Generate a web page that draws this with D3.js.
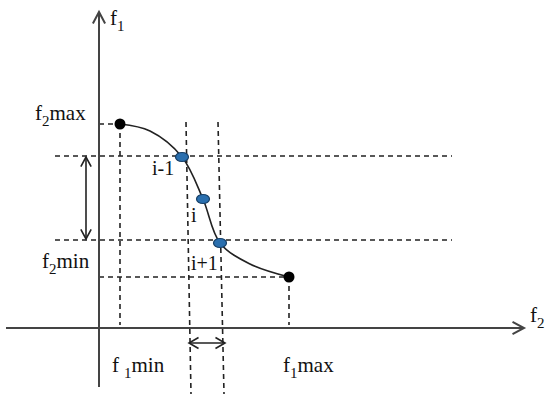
<!DOCTYPE html>
<html lang="en">
<head>
    <meta charset="UTF-8">
    <title>Pareto front</title>
    <style>
        body { margin: 0; background: #fff; }
        .axis { stroke: #444; stroke-width: 2px; fill: none; }
        .guide { stroke: #222; stroke-width: 1.6px; stroke-dasharray: 5, 4; fill: none; }
        .front { stroke: #222; stroke-width: 1.6px; fill: none; }
        .arrow { stroke: #222; stroke-width: 1.6px; fill: none; }
        text { font-family: "Liberation Serif", "DejaVu Serif", serif; fill: #111; }
    </style>
</head>
<body>
    <script src="https://d3js.org/d3.v7.min.js"></script>
    <script>
        // front points (abstract units, x -> f1, y -> f2)
        var frontX = [21, 51, 83, 104, 121, 151, 190];
        var frontY = [204, 197, 171, 129, 85, 64, 51];
        // end points of the front (black) and neighbour points i-1, i, i+1 (blue)
        var endX = [21, 190];
        var endY = [204, 51];
        var nbX = [83, 104, 121];
        var nbY = [171, 129, 85];
        var nbLabels = ["i-1", "i", "i+1"];
        // horizontal levels of the i-1 / i+1 points
        var levelY = [172, 88];
        // slanted vertical guides through i-1 and i+1 (top x, bottom x)
        var vTopX = [87, 119];
        var vBotX = [92, 125];

        var width = 550, height = 400;

        var x = d3.scaleLinear().domain([0, 425]).range([99, 524]);
        var y = d3.scaleLinear().domain([0, 316]).range([328, 12]);

        var svg = d3.select("body").append("svg")
            .attr("width", width)
            .attr("height", height);

        // chevron arrow head at (px,py) pointing in direction angle (deg)
        function head(px, py, ang, len, spread) {
            var a = ang * Math.PI / 180, s = spread * Math.PI / 180;
            var p1 = [px - len * Math.cos(a - s), py - len * Math.sin(a - s)];
            var p2 = [px - len * Math.cos(a + s), py - len * Math.sin(a + s)];
            return "M" + p1 + "L" + px + "," + py + "L" + p2;
        }

        // dashed guides
        var g = svg.append("g");
        levelY.forEach(function (v) {
            g.append("line").attr("class", "guide")
                .attr("x1", 55).attr("x2", 452)
                .attr("y1", y(v)).attr("y2", y(v));
        });
        g.append("line").attr("class", "guide")
            .attr("x1", x(0)).attr("x2", x(endX[0]))
            .attr("y1", y(endY[0])).attr("y2", y(endY[0]));
        g.append("line").attr("class", "guide")
            .attr("x1", x(0)).attr("x2", x(endX[1]))
            .attr("y1", y(endY[1])).attr("y2", y(endY[1]));
        endX.forEach(function (v, i) {
            g.append("line").attr("class", "guide")
                .attr("x1", x(v)).attr("x2", x(v))
                .attr("y1", y(endY[i])).attr("y2", y(0) - 3);
        });
        vTopX.forEach(function (v, i) {
            g.append("line").attr("class", "guide")
                .attr("x1", x(v)).attr("x2", x(vBotX[i]))
                .attr("y1", y(206)).attr("y2", y(-66));
        });

        // axes
        svg.append("line").attr("class", "axis")
            .attr("x1", 6).attr("x2", x(425))
            .attr("y1", y(0)).attr("y2", y(0));
        svg.append("line").attr("class", "axis")
            .attr("x1", x(0)).attr("x2", x(0))
            .attr("y1", y(-59)).attr("y2", y(316));
        svg.append("path").attr("class", "axis").attr("d", head(x(425), y(0), 0, 13, 28));
        svg.append("path").attr("class", "axis").attr("d", head(x(0), y(316), -90, 13, 28));

        // the front
        var line = d3.line()
            .x(function (d, i) { return x(frontX[i]); })
            .y(function (d) { return y(d); })
            .curve(d3.curveCatmullRom.alpha(0.5));
        svg.append("path").attr("class", "front").attr("d", line(frontY));

        // double arrows
        var ax = 86;
        svg.append("line").attr("class", "arrow")
            .attr("x1", ax).attr("x2", ax)
            .attr("y1", y(levelY[0]) + 1).attr("y2", y(levelY[1]) - 1);
        svg.append("path").attr("class", "arrow").attr("d", head(ax, y(levelY[0]) + 1, -90, 11, 28));
        svg.append("path").attr("class", "arrow").attr("d", head(ax, y(levelY[1]) - 1, 90, 11, 28));

        var ay = 343;
        svg.append("line").attr("class", "arrow")
            .attr("x1", x(90)).attr("x2", x(126))
            .attr("y1", ay).attr("y2", ay);
        svg.append("path").attr("class", "arrow").attr("d", head(x(90), ay, 180, 11, 30));
        svg.append("path").attr("class", "arrow").attr("d", head(x(126), ay, 0, 11, 30));

        // points
        svg.selectAll(".end").data(endX).enter().append("circle")
            .attr("cx", function (d) { return x(d); })
            .attr("cy", function (d, i) { return y(endY[i]); })
            .attr("r", 5.5).attr("fill", "#000");
        svg.selectAll(".nb").data(nbX).enter().append("ellipse")
            .attr("cx", function (d) { return x(d); })
            .attr("cy", function (d, i) { return y(nbY[i]); })
            .attr("rx", 6.5).attr("ry", 4.5)
            .attr("fill", "#2a6fae").attr("stroke", "#163f66").attr("stroke-width", 1.2);

        // labels
        var labPos = [[152, 175], [191, 222], [191, 270]];
        nbLabels.forEach(function (t, i) {
            svg.append("text").attr("x", labPos[i][0]).attr("y", labPos[i][1])
                .style("font-size", "20px").text(t);
        });

        function subLabel(px, py, main, sub, rest, gap) {
            var t = svg.append("text").attr("x", px).attr("y", py).style("font-size", "21px");
            t.append("tspan").text(main);
            t.append("tspan").attr("dx", gap || 0).attr("dy", 6).style("font-size", "15px").text(sub);
            if (rest) t.append("tspan").attr("dy", -6).text(rest);
        }
        subLabel(110, 25, "f", "1");
        subLabel(530, 322, "f", "2");
        subLabel(35, 120, "f", "2", "max");
        subLabel(42, 268, "f", "2", "min");
        subLabel(112, 372, "f", "1", "min", 5);
        subLabel(283, 372, "f", "1", "max");
    </script>
</body>
</html>
